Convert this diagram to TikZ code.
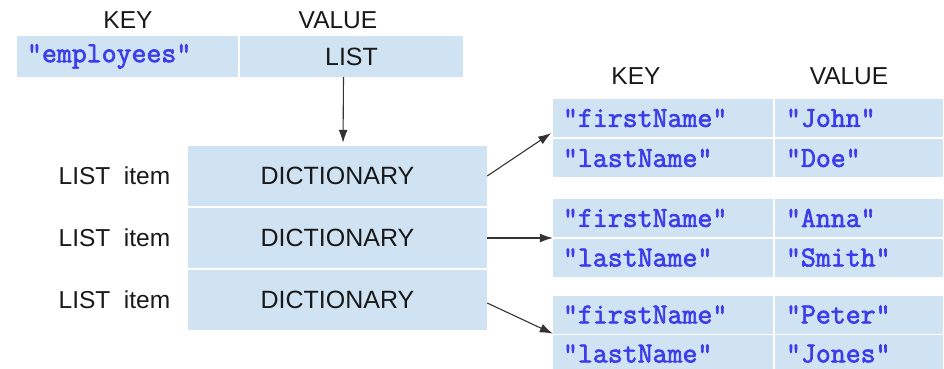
\documentclass[tikz,border=0pt]{standalone}
\usepackage{fontspec}
\setmainfont{Liberation Sans}
\newfontfamily\keyfont{Latin Modern Mono}[FakeBold=2.2]
\usetikzlibrary{arrows.meta, positioning}
\usepackage{xcolor}
\definecolor{cellcolor}{RGB}{207,227,242}
\definecolor{keycolor}{RGB}{60,60,235}
\definecolor{inkcolor}{RGB}{25,25,25}

\begin{document}
\begin{tikzpicture}[x=1pt, y=-1pt]
  \tikzset{
    cell/.style={
      fill=cellcolor,
      inner sep=0pt,
      minimum height=38pt,
      anchor=center
    },
    keycell/.style={
      cell,
      minimum width=220pt,
      text width=200pt,
      align=left,
      text=keycolor,
      font=\keyfont\fontsize{29}{32}\selectfont
    },
    valcell/.style={
      cell,
      minimum width=168pt,
      text width=146pt,
      align=left,
      text=keycolor,
      font=\keyfont\fontsize{29}{32}\selectfont
    },
    dictcell/.style={
      cell,
      minimum width=299pt,
      minimum height=60pt,
      text=inkcolor,
      font=\fontsize{25}{30}\selectfont
    },
    header/.style={
      text=inkcolor,
      font=\fontsize{24.5}{29}\selectfont
    },
    link/.style={
      draw=black!80,
      line width=1.1pt,
      -{Latex[length=13pt, width=9pt]}
    }
  }
  \useasboundingbox (0,0) rectangle (944,369);

  % Top key / value pair
  \node[header] at (128, 20) (topkey) {KEY};
  \node[header] at (338, 20) (topval) {VALUE};
  \node[keycell, minimum width=221pt, minimum height=41pt, text width=201pt] at (127.5, 56.5) (employees) {"employees"};
  \node[cell, minimum width=223pt, minimum height=41pt, text=inkcolor, font=\fontsize{25}{30}\selectfont] at (351.5, 56.5) (list) {LIST};

  % The list items
  \node[dictcell] at (337.5, 176) (dictA) {DICTIONARY};
  \node[dictcell] at (337.5, 238) (dictB) {DICTIONARY};
  \node[dictcell] at (337.5, 300) (dictC) {DICTIONARY};
  \node[header, left=14pt of dictA] (itemA) {LIST\ \ item};
  \node[header, left=14pt of dictB] (itemB) {LIST\ \ item};
  \node[header, left=14pt of dictC] (itemC) {LIST\ \ item};

  % The dictionaries
  \node[header] at (636, 76) (dictkey) {KEY};
  \node[header] at (849, 76) (dictval) {VALUE};

  \node[keycell] at (663, 118) (keyAa) {"firstName"};
  \node[valcell] at (859, 118) (valAa) {"John"};
  \node[keycell] at (663, 158) (keyAb) {"lastName"};
  \node[valcell] at (859, 158) (valAb) {"Doe"};

  \node[keycell] at (663, 218) (keyBa) {"firstName"};
  \node[valcell] at (859, 218) (valBa) {"Anna"};
  \node[keycell] at (663, 257.5) (keyBb) {"lastName"};
  \node[valcell] at (859, 257.5) (valBb) {"Smith"};

  \node[keycell] at (663, 314.5) (keyCa) {"firstName"};
  \node[valcell] at (859, 314.5) (valCa) {"Peter"};
  \node[keycell] at (663, 353.5) (keyCb) {"lastName"};
  \node[valcell] at (859, 353.5) (valCb) {"Jones"};

  % Arrows
  \draw[link, shorten >=3pt] ([xshift=-8pt]list.south) -- ([xshift=5.5pt]dictA.north);
  \draw[link, shorten >=2pt] (dictA.east) -- ([yshift=-14pt]keyAa.west);
  \draw[link] (dictB.east) -- (dictB.east -| keyBa.west);
  \draw[link] ([yshift=-3pt]dictC.east) -- (keyCa.south west);
\end{tikzpicture}
\end{document}
